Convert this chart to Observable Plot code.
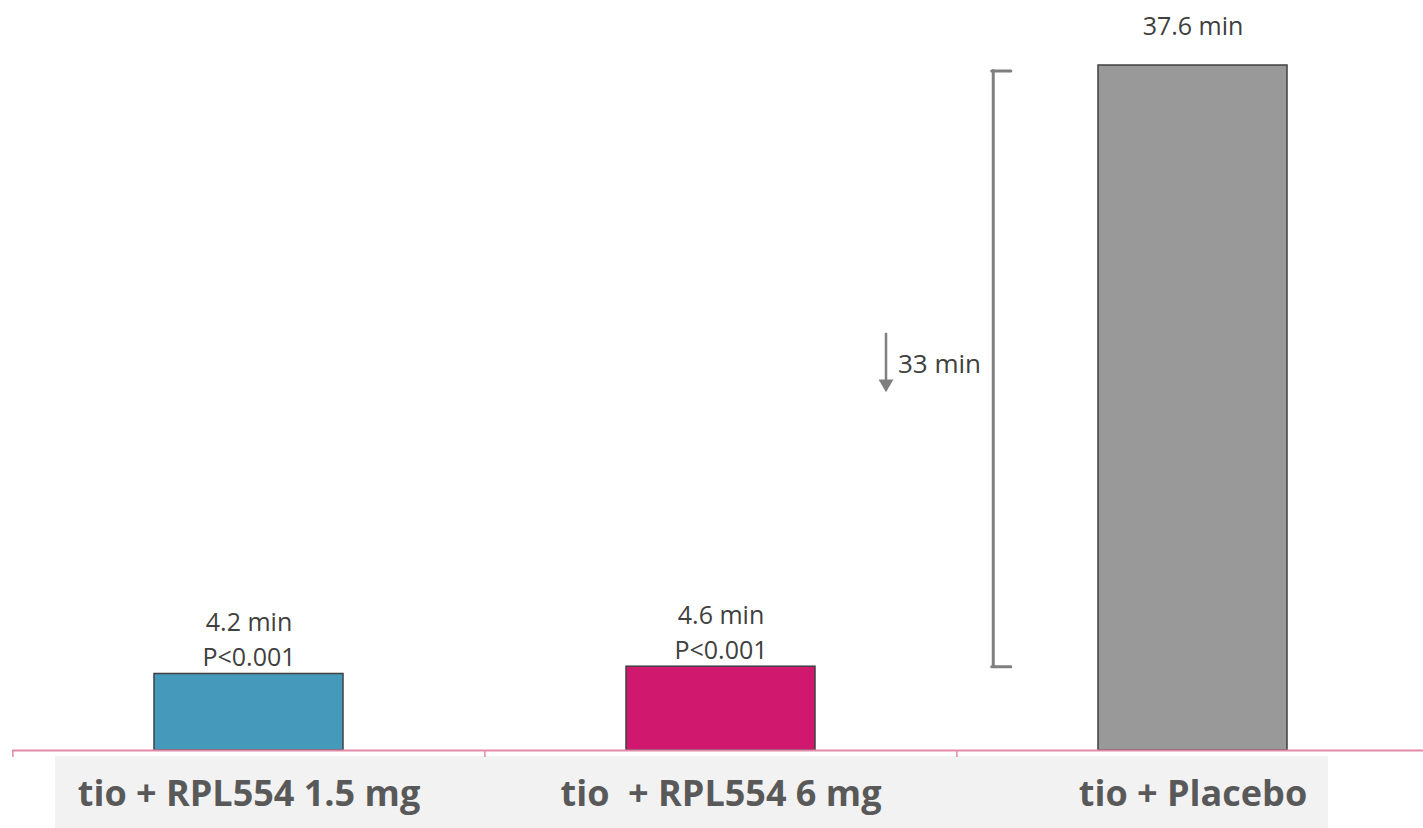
<!DOCTYPE html>
<html>
<head>
<meta charset="utf-8">
<script src="https://cdn.jsdelivr.net/npm/d3@7"></script>
<script src="https://cdn.jsdelivr.net/npm/@observablehq/plot@0.6"></script>
<style>
  html, body { margin: 0; padding: 0; background: #fff; }
  #chart svg g[aria-label="x-axis tick label"] text { font-weight: bold; }
</style>
</head>
<body>
<div id="chart"></div>
<script>
// ---- data ----
const categories = ["tio + RPL554 1.5 mg", "tio  + RPL554 6 mg", "tio + Placebo"];
const values = [4.2, 4.6, 37.6];
const pValues = ["P<0.001", "P<0.001", ""];
const barColors = ["#4599ba", "#d0186f", "#999999"];
// annotation: reduction vs placebo
const reductionLabel = "33 min";
const bracketRange = [4.6, 37.3];   // bracket ends (min)
const arrowRange = [22.9, 19.8];    // arrow from / to (min)
const arrowLabelY = 21.2;

const data = categories.map((c, i) => ({cat: c, value: values[i], p: pValues[i], color: barColors[i]}));

const W = 1423, H = 828;
const mL = 12, mR = 0, mT = 65, mB = 78;
const step = 472.3;                 // category band step (px)
const bandwidth = step * 0.4;
const xRange = [mL, mL + 3 * step];

const font = "'Open Sans', 'DejaVu Sans', sans-serif";
const pink = "#e38aa8";
const bracketColor = "#7f7f7f";
const bandStart3 = mL + 2 * step + step / 2 - bandwidth / 2;

const plot = Plot.plot({
  width: W, height: H,
  marginLeft: mL, marginRight: mR, marginTop: mT, marginBottom: mB,
  style: {fontFamily: font, background: "transparent"},
  x: {type: "band", domain: categories, range: xRange, paddingInner: 0.6, paddingOuter: 0.3, label: null},
  y: {domain: [0, 37.6], axis: null},
  color: {type: "identity"},
  marks: [
    // bars
    Plot.barY(data, {x: "cat", y: "value", fill: "color", stroke: "#404040", strokeWidth: 1.5}),
    // baseline and category separators
    Plot.ruleY([0], {stroke: pink, strokeWidth: 2}),
    Plot.ruleX(data, {x: "cat", y1: 0, y2: -0.38, dx: -step / 2, stroke: pink, strokeWidth: 1.5}),
    // value labels
    Plot.text(data.filter(d => d.p), {
      x: "cat", y: "value", text: d => `${d.value} min\n${d.p}`,
      lineAnchor: "bottom", dy: -8, fontSize: 25, lineHeight: 1.4, fill: "#404040"
    }),
    Plot.text(data.filter(d => !d.p), {
      x: "cat", y: "value", text: d => `${d.value} min`,
      lineAnchor: "bottom", dy: -31, fontSize: 25, fill: "#404040"
    }),
    // bracket (vertical + two short horizontals)
    Plot.ruleX([categories[2]], {x: d => d, y1: bracketRange[0], y2: bracketRange[1],
      dx: 993 - (bandStart3 + bandwidth / 2), stroke: bracketColor, strokeWidth: 3, strokeLinecap: "round"}),
    Plot.tickY(bracketRange, {x: () => categories[2], y: d => d,
      dx: 993 - bandStart3 - 1, insetRight: bandwidth - 19,
      stroke: bracketColor, strokeWidth: 3, strokeLinecap: "round"}),
    // arrow showing reduction
    Plot.ruleX([categories[1]], {x: d => d, y1: arrowRange[0], y2: arrowRange[1] + 0.5,
      dx: 165, stroke: "#7f7f7f", strokeWidth: 2.5}),
    Plot.dot([categories[1]], {x: d => d, y: arrowRange[1] + 0.33, dx: 165,
      symbol: "triangle", rotate: 180, r: 5.5, fill: "#7f7f7f", stroke: "none"}),
    Plot.text([reductionLabel], {x: () => categories[1], y: arrowLabelY, text: d => d,
      dx: 177, textAnchor: "start", fontSize: 26, fill: "#404040"}),
    // category labels
    Plot.axisX({anchor: "bottom", tickSize: 0, tickPadding: 30, fontSize: 36, fill: "#595959", label: null})
  ]
});

// grey label panel behind the category labels
d3.select(plot).insert("rect", ":first-child")
  .attr("x", 55).attr("y", 756).attr("width", 1273).attr("height", H - 756)
  .attr("fill", "#f2f2f2");

document.getElementById("chart").appendChild(plot);
</script>
</body>
</html>
